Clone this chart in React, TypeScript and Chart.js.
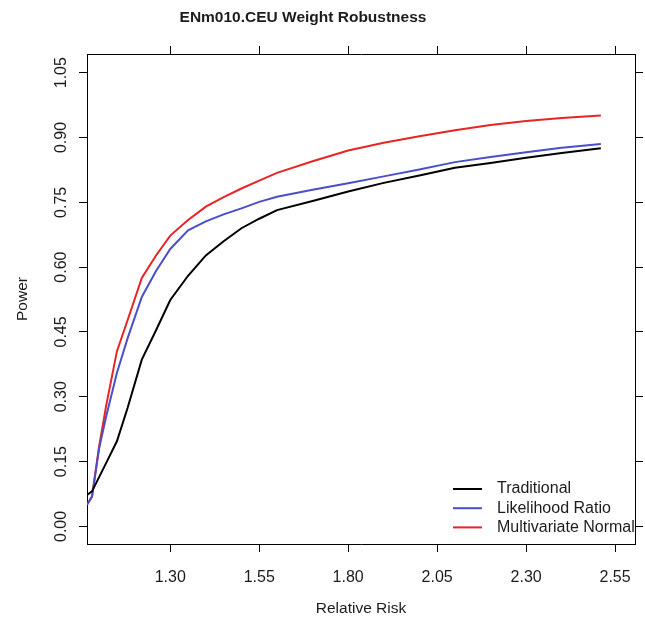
import { useEffect, useRef } from 'react';
import { Chart, registerables } from 'chart.js';

Chart.register(...registerables);

const relativeRisk = [1.066, 1.08, 1.10, 1.12, 1.15, 1.18, 1.22, 1.26, 1.30, 1.35, 1.40, 1.45, 1.50, 1.55, 1.60, 1.70, 1.80, 1.90, 2.00, 2.10, 2.20, 2.30, 2.40, 2.51];
const traditional = [0.073, 0.081, 0.114, 0.147, 0.197, 0.274, 0.386, 0.454, 0.524, 0.58, 0.627, 0.66, 0.69, 0.712, 0.732, 0.753, 0.775, 0.795, 0.812, 0.830, 0.841, 0.853, 0.864, 0.875];
const likelihoodRatio = [0.050, 0.069, 0.18, 0.255, 0.355, 0.435, 0.531, 0.591, 0.642, 0.685, 0.706, 0.722, 0.736, 0.751, 0.763, 0.779, 0.794, 0.810, 0.826, 0.843, 0.855, 0.866, 0.876, 0.885];
const multivariateNormal = [0.050, 0.069, 0.185, 0.28, 0.405, 0.477, 0.575, 0.627, 0.673, 0.709, 0.740, 0.762, 0.782, 0.800, 0.818, 0.845, 0.870, 0.888, 0.903, 0.917, 0.929, 0.938, 0.945, 0.951];

const seriesNames = ['Traditional', 'Likelihood Ratio', 'Multivariate Normal'];
const seriesColors = ['#000000', '#4a4fc8', '#e82424'];

const xTicks = [1.30, 1.55, 1.80, 2.05, 2.30, 2.55];
const yTicks = [0.00, 0.15, 0.30, 0.45, 0.60, 0.75, 0.90, 1.05];

const TITLE = 'ENm010.CEU Weight Robustness';
const X_TITLE = 'Relative Risk';
const Y_TITLE = 'Power';

const FONT = '"Liberation Sans", Arial, sans-serif';
const TEXT_COLOR = '#1c1c1c';

const textPlugin = {
  id: 'rText',
  afterDraw(chart: any) {
    const ctx = chart.ctx as CanvasRenderingContext2D;
    const xs = chart.scales.x;
    const ys = chart.scales.y;
    const area = chart.chartArea;
    ctx.save();
    ctx.fillStyle = TEXT_COLOR;
    ctx.textAlign = 'center';
    ctx.textBaseline = 'middle';

    ctx.font = `bold 15.5px ${FONT}`;
    ctx.fillText(TITLE, 303, 18);

    ctx.font = `16px ${FONT}`;
    xTicks.forEach((v) => ctx.fillText(v.toFixed(2), xs.getPixelForValue(v), 578));
    yTicks.forEach((v) => {
      ctx.save();
      ctx.translate(62, ys.getPixelForValue(v));
      ctx.rotate(-Math.PI / 2);
      ctx.fillText(v.toFixed(2), 0, 0);
      ctx.restore();
    });

    ctx.font = `15.5px ${FONT}`;
    ctx.fillText(X_TITLE, (area.left + area.right) / 2, 609);
    ctx.save();
    ctx.translate(23, (area.top + area.bottom) / 2);
    ctx.rotate(-Math.PI / 2);
    ctx.fillText(Y_TITLE, 0, 0);
    ctx.restore();

    // legend
    ctx.font = `16px ${FONT}`;
    ctx.textAlign = 'left';
    const datasets = chart.data.datasets;
    datasets.forEach((ds: any, i: number) => {
      const y = 489 + i * 19.2;
      ctx.strokeStyle = ds.borderColor;
      ctx.lineWidth = 2;
      ctx.beginPath();
      ctx.moveTo(453, y);
      ctx.lineTo(482, y);
      ctx.stroke();
      ctx.fillStyle = TEXT_COLOR;
      ctx.fillText(ds.label, 497, y);
    });
    ctx.restore();
  },
};

const axisCommon = {
  type: 'linear' as const,
  grid: {
    display: true,
    drawOnChartArea: false,
    drawTicks: true,
    tickLength: 8,
    color: '#000000',
    lineWidth: 1,
  },
  border: { display: true, color: '#000000', width: 1 },
  ticks: { display: false },
};

export default function App() {
  const ref = useRef<HTMLCanvasElement | null>(null);

  useEffect(() => {
    if (!ref.current) return;
    const series = [traditional, likelihoodRatio, multivariateNormal];
    const chart = new Chart(ref.current, {
      type: 'line',
      data: {
        datasets: series.map((vals, i) => ({
          label: seriesNames[i],
          data: relativeRisk.map((x, j) => ({ x, y: vals[j] })),
          borderColor: seriesColors[i],
          backgroundColor: seriesColors[i],
          borderWidth: 2,
          pointRadius: 0,
          tension: 0,
          fill: false,
        })),
      },
      options: {
        responsive: false,
        animation: false,
        devicePixelRatio: 1,
        layout: { padding: 0 },
        plugins: {
          legend: { display: false },
          title: { display: false },
          tooltip: { enabled: false },
        },
        scales: {
          x: {
            ...axisCommon,
            position: 'bottom',
            min: 1.066,
            max: 2.606,
            afterBuildTicks: (s: any) => { s.ticks = xTicks.map((v) => ({ value: v })); },
            afterFit: (s: any) => { s.height = 79; },
          },
          x2: {
            ...axisCommon,
            position: 'top',
            min: 1.066,
            max: 2.606,
            afterBuildTicks: (s: any) => { s.ticks = xTicks.map((v) => ({ value: v })); },
            afterFit: (s: any) => { s.height = 54; },
          },
          y: {
            ...axisCommon,
            position: 'left',
            min: -0.0407,
            max: 1.0932,
            afterBuildTicks: (s: any) => { s.ticks = yTicks.map((v) => ({ value: v })); },
            afterFit: (s: any) => { s.width = 87; },
          },
          y2: {
            ...axisCommon,
            position: 'right',
            min: -0.0407,
            max: 1.0932,
            afterBuildTicks: (s: any) => { s.ticks = yTicks.map((v) => ({ value: v })); },
            afterFit: (s: any) => { s.width = 10; },
          },
        },
      } as any,
      plugins: [textPlugin],
    });
    return () => chart.destroy();
  }, []);

  return (
    <canvas
      ref={ref}
      width={645}
      height={623}
      style={{ position: 'fixed', left: 0, top: 0, width: 645, height: 623, display: 'block', background: '#ffffff' }}
    />
  );
}
